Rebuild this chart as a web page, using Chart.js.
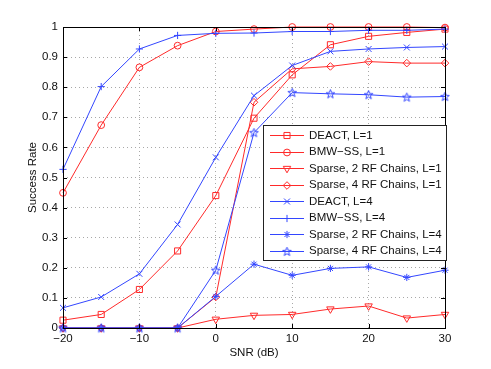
<!DOCTYPE html>
<html>
<head>
<meta charset="utf-8">
<script src="https://cdn.jsdelivr.net/npm/chart.js@4.4.1/dist/chart.umd.min.js"></script>
<style>
  html, body { margin: 0; padding: 0; background: #fff; }
  #wrap { width: 491px; height: 369px; }
</style>
</head>
<body>
<div id="wrap"><canvas id="successChart" width="491" height="369"></canvas></div>
<script>
// SNR points (dB)
const snr = [-20, -15, -10, -5, 0, 5, 10, 15, 20, 25, 30];

// success rate per method
const deactL1   = [0.026, 0.045, 0.128, 0.256, 0.440, 0.697, 0.841, 0.941, 0.969, 0.982, 0.993];
const bmwL1     = [0.449, 0.674, 0.866, 0.938, 0.985, 0.993, 1.000, 1.000, 1.000, 1.000, 0.998];
const sparse2L1 = [0, 0, 0, 0, 0.029, 0.042, 0.045, 0.063, 0.073, 0.033, 0.045];
const sparse4L1 = [0, 0, 0, 0, 0.103, 0.750, 0.861, 0.869, 0.885, 0.880, 0.880];
const deactL4   = [0.067, 0.103, 0.180, 0.344, 0.567, 0.772, 0.872, 0.919, 0.927, 0.932, 0.935];
const bmwL4     = [0.527, 0.802, 0.927, 0.972, 0.979, 0.980, 0.985, 0.985, 0.989, 0.989, 0.993];
const sparse2L4 = [0, 0, 0, 0, 0.105, 0.212, 0.175, 0.198, 0.203, 0.168, 0.192];
const sparse4L4 = [0, 0, 0, 0, 0.192, 0.649, 0.782, 0.778, 0.775, 0.767, 0.769];

const seriesNames = [
  'DEACT, L=1', 'BMW\u2212SS, L=1', 'Sparse, 2 RF Chains, L=1', 'Sparse, 4 RF Chains, L=1',
  'DEACT, L=4', 'BMW\u2212SS, L=4', 'Sparse, 2 RF Chains, L=4', 'Sparse, 4 RF Chains, L=4'
];

const RED = '#ff2a2a';
const BLUE = '#3346ff';
const FONT = '"Liberation Sans", Arial, Helvetica, sans-serif';

// pentagram marker (not built into Chart.js)
function pentagram(color) {
  const c = document.createElement('canvas');
  c.width = 11; c.height = 11;
  const g = c.getContext('2d');
  g.strokeStyle = color;
  g.lineWidth = 1;
  g.beginPath();
  for (let i = 0; i < 10; i++) {
    const r = i % 2 ? 1.9 : 4.6;
    const a = -Math.PI / 2 + i * Math.PI / 5;
    const px = 5.5 + r * Math.cos(a), py = 5.8 + r * Math.sin(a);
    if (i) g.lineTo(px, py); else g.moveTo(px, py);
  }
  g.closePath();
  g.stroke();
  return c;
}

const styles = [
  { color: RED,  pointStyle: 'rect',     radius: 4.3, rotation: 0 },
  { color: RED,  pointStyle: 'circle',   radius: 3.4, rotation: 0 },
  { color: RED,  pointStyle: 'triangle', radius: 4.3, rotation: 180 },
  { color: RED,  pointStyle: 'rectRot',  radius: 3.8, rotation: 0 },
  { color: BLUE, pointStyle: 'crossRot', radius: 4.2, rotation: 0 },
  { color: BLUE, pointStyle: 'cross',    radius: 3.6, rotation: 0 },
  { color: BLUE, pointStyle: 'star',     radius: 3.6, rotation: 0 },
  { color: BLUE, pointStyle: pentagram(BLUE), radius: 4, rotation: 0 }
];

const allSeries = [deactL1, bmwL1, sparse2L1, sparse4L1, deactL4, bmwL4, sparse2L4, sparse4L4];

const datasets = allSeries.map((vals, i) => ({
  label: seriesNames[i],
  data: vals.map((v, k) => ({ x: snr[k], y: v })),
  borderColor: styles[i].color,
  backgroundColor: 'rgba(0,0,0,0)',
  pointBackgroundColor: 'rgba(0,0,0,0)',
  pointBorderColor: styles[i].color,
  borderWidth: 1,
  pointBorderWidth: 1,
  pointStyle: styles[i].pointStyle,
  pointRadius: styles[i].radius,
  pointRotation: styles[i].rotation,
  tension: 0,
  clip: false,
  order: 8 - i
}));

// box, inward ticks and in-plot legend
const matlabAxes = {
  id: 'matlabAxes',
  afterDraw(chart) {
    const { ctx, chartArea: a, scales } = chart;
    ctx.save();
    ctx.strokeStyle = '#000';
    ctx.lineWidth = 1;
    ctx.strokeRect(Math.round(a.left) + 0.5, Math.round(a.top) + 0.5,
      Math.round(a.right - a.left), Math.round(a.bottom - a.top));
    ctx.beginPath();
    scales.x.ticks.forEach(t => {
      const px = Math.round(scales.x.getPixelForValue(t.value)) + 0.5;
      ctx.moveTo(px, a.bottom); ctx.lineTo(px, a.bottom - 4);
      ctx.moveTo(px, a.top); ctx.lineTo(px, a.top + 4);
    });
    scales.y.ticks.forEach(t => {
      const py = Math.round(scales.y.getPixelForValue(t.value)) + 0.5;
      ctx.moveTo(a.left, py); ctx.lineTo(a.left + 4, py);
      ctx.moveTo(a.right, py); ctx.lineTo(a.right - 4, py);
    });
    ctx.stroke();

    // legend
    const lx = 263, ly = 125, lw = 183, lh = 135;
    ctx.fillStyle = '#fff';
    ctx.fillRect(lx, ly, lw, lh);
    ctx.strokeStyle = '#222';
    ctx.strokeRect(lx + 0.5, ly + 0.5, lw, lh);
    ctx.font = '11.5px ' + FONT;
    ctx.textBaseline = 'middle';
    chart.data.datasets.forEach((ds, i) => {
      const y = 135 + i * 16.5;
      const st = styles[i];
      ctx.strokeStyle = st.color;
      ctx.lineWidth = 1;
      ctx.beginPath();
      ctx.moveTo(270, Math.round(y) + 0.5);
      ctx.lineTo(304, Math.round(y) + 0.5);
      ctx.stroke();
      ctx.fillStyle = 'rgba(0,0,0,0)';
      if (Chart.helpers && Chart.helpers.drawPoint) {
        Chart.helpers.drawPoint(ctx, {
          pointStyle: st.pointStyle, radius: st.radius, rotation: st.rotation, borderWidth: 1
        }, 287, Math.round(y) + 0.5);
      }
      ctx.fillStyle = '#111';
      ctx.fillText(ds.label, 309, y + 0.5);
    });
    ctx.restore();
  }
};

const ctx = document.getElementById('successChart').getContext('2d');
new Chart(ctx, {
  type: 'line',
  data: { datasets },
  options: {
    responsive: false,
    animation: false,
    layout: { padding: { top: 27, right: 46, left: 0, bottom: 0 } },
    plugins: {
      legend: { display: false },
      tooltip: { enabled: false }
    },
    scales: {
      x: {
        type: 'linear',
        min: -20, max: 30,
        afterFit: s => { s.height = 41; },
        grid: { color: '#a8a8a8', drawTicks: false },
        border: { display: false, dash: [1, 3] },
        ticks: {
          stepSize: 10, padding: 4, color: '#111',
          font: { family: FONT, size: 11.5 },
          callback: v => String(v).replace('-', '\u2212')
        },
        title: {
          display: true, text: 'SNR (dB)', color: '#111',
          font: { family: FONT, size: 11.5 },
          padding: { top: 0, bottom: 9 }
        }
      },
      y: {
        min: 0, max: 1,
        afterFit: s => { s.width = 63; },
        grid: { color: '#a8a8a8', drawTicks: false },
        border: { display: false, dash: [1, 3] },
        ticks: {
          stepSize: 0.1, padding: 5, color: '#111',
          font: { family: FONT, size: 11.5 },
          callback: v => String(+v.toFixed(1))
        },
        title: {
          display: true, text: 'Success Rate', color: '#111',
          font: { family: FONT, size: 11.5 },
          padding: { top: 26, bottom: 0 }
        }
      }
    }
  },
  plugins: [matlabAxes]
});
</script>
</body>
</html>
